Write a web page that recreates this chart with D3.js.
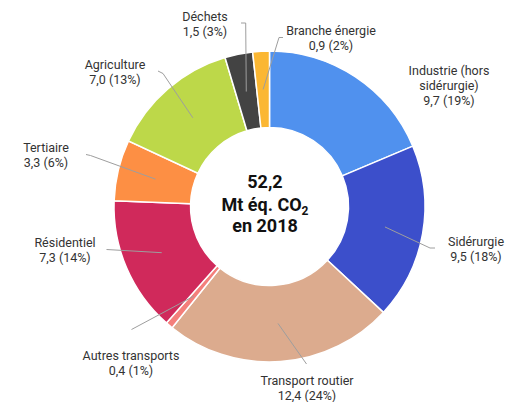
<!DOCTYPE html>
<html lang="fr">
<head>
<meta charset="utf-8">
<script src="https://cdn.jsdelivr.net/npm/d3@7"></script>
<style>
  html, body { margin: 0; padding: 0; background: #fff; }
  svg { display: block; font-family: Roboto, "Noto Sans", sans-serif; }
</style>
</head>
<body>
<svg id="chart" width="506" height="402"></svg>
<script>
// Émissions par secteur (Mt éq. CO2), ordre horaire depuis midi
const sectors = ["Industrie (hors sidérurgie)", "Sidérurgie", "Transport routier", "Autres transports",
                 "Résidentiel", "Tertiaire", "Agriculture", "Déchets", "Branche énergie"];
const values = [9.7, 9.5, 12.4, 0.4, 7.3, 3.3, 7.0, 1.5, 0.9];
const shares = ["19%", "18%", "24%", "1%", "14%", "6%", "13%", "3%", "2%"];
const colors = ["#5091ee", "#3c4fcb", "#dcab8e", "#f47f7b", "#d0295b", "#fd8f44", "#bdd849", "#434343", "#fbb733"];
const totalLabel = ["52,2", "Mt éq. CO", "en 2018"];

// Placement des étiquettes : centre du texte, ligne de base, lignes de texte, tracé du renvoi
const labelLayout = [
  { x: 449, y: 75,  lines: ["Industrie (hors", "sidérurgie)"], leader: null },
  { x: 476, y: 246, lines: ["Sidérurgie"], leader: [[430, 248], [435, 248]] },
  { x: 307, y: 384.5, lines: ["Transport routier"], leader: [[306.5, 364]] },
  { x: 131, y: 359.5, lines: ["Autres transports"], leader: [[131.5, 329.5]] },
  { x: 65,  y: 247, lines: ["Résidentiel"], leader: [[106.5, 249.5]] },
  { x: 46,  y: 151.5, lines: ["Tertiaire"], leader: [[90.5, 155.5], [86, 154.5]] },
  { x: 115, y: 68.5, lines: ["Agriculture"], leader: [[163, 73.5], [158, 71]] },
  { x: 205, y: 20.5, lines: ["Déchets"], leader: [[245.7, 23], [241, 23]] },
  { x: 331, y: 35,  lines: ["Branche énergie"], leader: [[279, 37.5], [283, 37.5]] }
];

const fmt = v => d3.format(".1f")(v).replace(".", ",");

const svg = d3.select("#chart");
const cx = 269.5, cy = 206.5, rOuter = 155.5, rInner = 79;

const data = sectors.map((s, i) => ({ name: s, value: values[i], share: shares[i], color: colors[i], layout: labelLayout[i] }));

const pie = d3.pie().sort(null).value(d => d.value);
const arc = d3.arc().innerRadius(rInner).outerRadius(rOuter);
const arcs = pie(data);

const g = svg.append("g").attr("transform", `translate(${cx},${cy})`);

g.selectAll("path.slice")
  .data(arcs)
  .join("path")
  .attr("class", "slice")
  .attr("d", arc)
  .attr("fill", d => d.data.color)
  .attr("stroke", "#fff")
  .attr("stroke-width", 1.5);

// Traits de renvoi depuis le centre de chaque secteur
const line = d3.line();
svg.append("g")
  .selectAll("path.leader")
  .data(arcs.filter(d => d.data.layout.leader))
  .join("path")
  .attr("class", "leader")
  .attr("d", d => {
    const [x, y] = arc.centroid(d);
    return line([[cx + x, cy + y], ...d.data.layout.leader]);
  })
  .attr("fill", "none")
  .attr("stroke", "#9e9e9e")
  .attr("stroke-width", 1);

// Étiquettes : nom puis valeur (part)
const labels = svg.append("g")
  .selectAll("text.label")
  .data(arcs)
  .join("text")
  .attr("class", "label")
  .attr("text-anchor", "middle")
  .attr("font-size", 12.5)
  .attr("fill", "#333")
  .attr("x", d => d.data.layout.x)
  .attr("y", d => d.data.layout.y);

labels.each(function(d) {
  const t = d3.select(this);
  const rows = [...d.data.layout.lines, `${fmt(d.data.value)} (${d.data.share})`];
  rows.forEach((r, i) => {
    t.append("tspan").attr("x", d.data.layout.x).attr("dy", i === 0 ? 0 : 15).text(r);
  });
});

// Total au centre
const center = svg.append("g")
  .attr("font-size", 18)
  .attr("font-weight", "bold")
  .attr("fill", "#111")
  .attr("text-anchor", "middle");

center.append("text").attr("x", 265).attr("y", 188).text(totalLabel[0]);
const mid = center.append("text").attr("x", 265).attr("y", 210.5);
mid.append("tspan").text(totalLabel[1]);
mid.append("tspan").attr("font-size", 12).attr("dy", 4).text("2");
center.append("text").attr("x", 265).attr("y", 232).text(totalLabel[2]);
</script>
</body>
</html>
